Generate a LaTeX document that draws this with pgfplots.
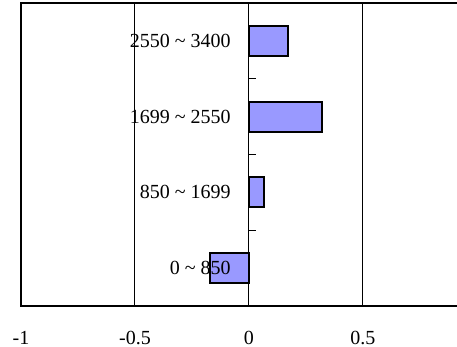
\documentclass[border=0pt]{standalone}
\usepackage{pgfplots}
\pgfplotsset{compat=1.18}
\usepackage{fontspec}
\setmainfont{Liberation Serif}
\definecolor{barblue}{RGB}{153,153,255}
\begin{document}
\begin{tikzpicture}
\begin{axis}[
  at={(0,0)}, anchor=south west,
  scale only axis,
  width=228pt, height=151.5pt,
  xmin=-1, xmax=1, ymin=-0.5, ymax=3.5,
  xtick={-1,-0.5,0,0.5,1},
  xticklabels={-1,-0.5,0,0.5,{}},
  xticklabel style={yshift=-9pt, font=\fontsize{10}{12}\selectfont},
  major tick length=0pt,
  ytick=\empty,
  xmajorgrids,
  grid style={black, line width=0.5pt},
  axis line style={black, line width=1pt},
  clip=false,
]
\addplot[xbar, bar width=15pt, bar shift=0pt, fill=barblue, draw=black, line width=1pt]
  coordinates {(-0.171,0) (0.064,1) (0.321,2) (0.172,3)};
\draw[black, line width=0.5pt] (axis cs:0,0.5) -- ([xshift=3.5pt]axis cs:0,0.5);
\draw[black, line width=0.5pt] (axis cs:0,1.5) -- ([xshift=3.5pt]axis cs:0,1.5);
\draw[black, line width=0.5pt] (axis cs:0,2.5) -- ([xshift=3.5pt]axis cs:0,2.5);
\node[anchor=east, inner sep=0pt, font=\fontsize{10}{12}\selectfont] at ([xshift=-9pt]axis cs:0,0) {0 \textasciitilde{} 850};
\node[anchor=east, inner sep=0pt, font=\fontsize{10}{12}\selectfont] at ([xshift=-9pt]axis cs:0,1) {850 \textasciitilde{} 1699};
\node[anchor=east, inner sep=0pt, font=\fontsize{10}{12}\selectfont] at ([xshift=-9pt]axis cs:0,2) {1699 \textasciitilde{} 2550};
\node[anchor=east, inner sep=0pt, font=\fontsize{10}{12}\selectfont] at ([xshift=-9pt]axis cs:0,3) {2550 \textasciitilde{} 3400};
\end{axis}
\pgfresetboundingbox
\path[use as bounding box] (-10.5pt,-20.5pt) rectangle (218pt,153pt);
\end{tikzpicture}
\end{document}
